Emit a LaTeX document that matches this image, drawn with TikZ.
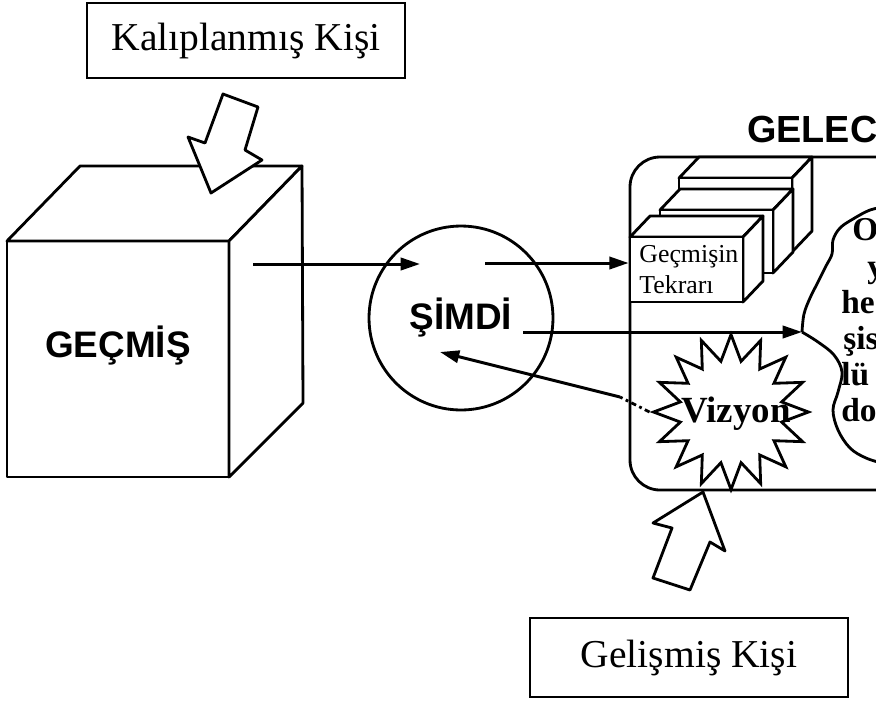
\documentclass[tikz,border=0pt]{standalone}
\usepackage{fontspec}
\setmainfont{Liberation Serif}
\setsansfont{Liberation Sans}
\usetikzlibrary{shapes.geometric, arrows.meta, positioning}

\tikzset{
  kisi/.style={draw, line width=1.3pt, minimum width=6.36cm, minimum height=1.5cm,
    font=\fontsize{22.5}{27}\selectfont},
  kalin/.style={font=\sffamily\bfseries\fontsize{21}{25}\selectfont},
  ok/.style={line width=1.7pt, -{Triangle[length=11pt, width=7pt]}},
  blok/.style={draw, fill=white, line width=1.6pt, line join=round},
  tekrarfont/.style={font=\fontsize{14.7}{17.6}\selectfont, anchor=base west, inner sep=0pt},
  bulut/.style={font=\bfseries\fontsize{19}{22}\selectfont, anchor=base west, inner sep=0pt}
}

\begin{document}
\begin{tikzpicture}[x=0.02cm, y=-0.02cm, line width=1.6pt]
\useasboundingbox (0,0) rectangle (876,701);
\clip (0,0) rectangle (876,701);

% gecmis kutusu
\draw[blok] (7,241) rectangle (229,477);
\draw[blok] (7,241) -- (80,166) -- (302,166) -- (229,241) -- cycle;
\draw[blok] (229,241) -- (302,166) -- (303,403) -- (229,477) -- cycle;
\node[kalin] (gecmis) at (118,346) {GEÇMİŞ};

% kisiler ve blok oklar
\node[kisi] (kalip) at (246,40.5) {Kalıplanmış Kişi};
\node[kisi, minimum height=1.58cm] (gelis) at (689,657.5) {Gelişmiş Kişi};
\draw[blok] (223,94) -- (258,107) -- (245,150) -- (262,160) -- (211,193)
  -- (188,137) -- (205,143) -- cycle;

% simdi
\node[circle, draw, minimum size=3.68cm, inner sep=0pt, kalin] (simdi) at (461,318) {ŞİMDİ};

% gelecek
\draw[rounded corners=0.6cm] (900,157) -- (630,157) -- (630,490) -- (900,490);
\node[kalin, font=\sffamily\bfseries\fontsize{21.5}{25}\selectfont, anchor=base west]
  (gelecek) at (740,142) {GELECEK};
\draw[blok] (703,492) -- (725,551) -- (710,542) -- (690,590) -- (653,578)
  -- (672,528) -- (653,523) -- cycle;

\foreach \x/\y/\h in {679/252/74, 660/273/63, 630/302/65} {
  \draw[blok] (\x,\y-\h) -- ++(20,-21) -- ++(113,0) -- ++(-20,21) -- cycle;
  \draw[blok] (\x+113,\y) -- ++(0,-\h) -- ++(20,-21) -- ++(0,\h) -- cycle;
  \draw[blok] (\x,\y) rectangle ++(113,-\h);
}
\node[minimum width=2.26cm, minimum height=1.3cm] (tekrar) at (686.5,269.5) {};
\node[tekrarfont] (t1) at (638,262) {Geçmişin};
\node[tekrarfont] (t2) at (638,293) {Tekrarı};

\node[star, star points=16, star point ratio=1.5, draw, minimum size=3.1cm,
  inner sep=0pt] (viz) at (731,412) {};
\node[font=\bfseries\fontsize{21}{25}\selectfont, anchor=base] (vizyon) at (736,422) {Vizyon};

% bulut
\draw plot[smooth, tension=0.6] coordinates {(885,207) (870,210) (853,219) (840,228)
  (833,240) (832,254) (826,266) (818,282) (810,298) (804,314) (802,332)};
\draw plot[smooth, tension=0.6] coordinates {(802,332) (818,342) (834,355) (842,372)
  (838,392) (833,410) (838,430) (850,448) (866,458) (885,464)};
\coordinate (bulutucu) at (802,332);
\foreach \t/\x/\y [count=\i] in {O/851/240, y/866/277, he/840/313, şis/842/349, lü/840/385, do/840/421}
  \node[bulut] (b\i) at (\x,\y) {\t};

% oklar
\coordinate (g1) at (253,264);
\coordinate (s1) at (420,264);
\coordinate (s2) at (485,263);
\coordinate (s3) at (523,332);
\coordinate (s4) at (440,352);
\coordinate (kesik) at (620,397);
\draw[ok] (g1) -- (s1);
\draw[ok] (s2) -- (s2 -| tekrar.west);
\draw[ok] (s3) -- (bulutucu);
\draw[dashdotted] (viz.west) -- (kesik);
\draw[ok] (kesik) -- (s4);
\end{tikzpicture}
\end{document}
